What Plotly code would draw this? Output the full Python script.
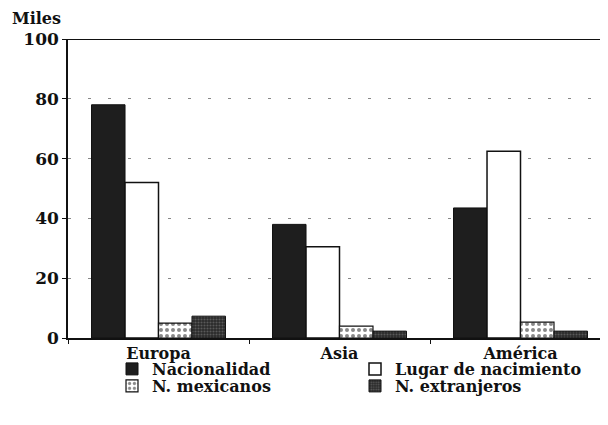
import plotly.graph_objects as go

categories = ["Europa", "Asia", "América"]
nacionalidad = [78, 38, 43.5]
lugar_nacimiento = [52, 30.5, 62.5]
n_mexicanos = [5, 4, 5.3]
n_extranjeros = [7.3, 2.3, 2.3]
y_ticks = [0, 20, 40, 60, 80, 100]

FONT = "DejaVu Serif"
OFF = 8  # page body margin offset
W, H = 608, 425
L, R, T, B = 68 - OFF, 5, 39 - OFF, 87 + OFF
PW, PH = W - L - R, H - T - B


def px_x(px):
    return (px - OFF - L) / PW


def px_y(py):
    return (H - B - (py - OFF)) / PH


fig = go.Figure()
fig.add_trace(go.Bar(x=categories, y=nacionalidad, name="Nacionalidad",
                     marker=dict(color="#1e1e1e", line=dict(color="#111", width=1)),
                     legend="legend"))
fig.add_trace(go.Bar(x=categories, y=lugar_nacimiento, name="Lugar de nacimiento",
                     marker=dict(color="white", line=dict(color="#111", width=1.5)),
                     legend="legend2"))
fig.add_trace(go.Bar(x=categories, y=n_mexicanos, name="N. mexicanos",
                     marker=dict(color="white", line=dict(color="#111", width=1.2),
                                 pattern=dict(shape=".", fgcolor="#111", bgcolor="white",
                                              size=6, solidity=0.35)),
                     legend="legend3"))
fig.add_trace(go.Bar(x=categories, y=n_extranjeros, name="N. extranjeros",
                     marker=dict(color="#3a3a3a", line=dict(color="#111", width=1),
                                 pattern=dict(shape=".", fgcolor="#888", bgcolor="#2a2a2a",
                                              size=3, solidity=0.4)),
                     legend="legend4"))

leg_font = dict(family=FONT, size=16, color="#111", weight="bold")


def leg(xpx, ypx):
    return dict(x=px_x(xpx), xanchor="left", y=px_y(ypx), yanchor="middle",
                font=leg_font, itemwidth=30, bgcolor="rgba(0,0,0,0)",
                borderwidth=0)


fig.update_layout(
    width=W, height=H,
    margin=dict(l=L, r=R, t=T, b=B, autoexpand=False),
    plot_bgcolor="white", paper_bgcolor="white",
    barmode="group", bargap=0.26, bargroupgap=0,
    font=dict(family=FONT, size=15, color="#111"),
    showlegend=True,
    legend=leg(112, 369),
    legend2=leg(355, 369),
    legend3=leg(112, 386),
    legend4=leg(355, 386),
    xaxis=dict(range=[-0.5, 2.5], showline=True, linecolor="#111", linewidth=1.5,
               ticks="outside", ticklen=4, tickcolor="#111", tickson="boundaries",
               tickfont=dict(family=FONT, size=16, color="#111", weight="bold"),
               showgrid=False),
    yaxis=dict(range=[0, 100], tickvals=y_ticks, showline=True, linecolor="#111",
               linewidth=1.5, mirror=False, ticks="outside", ticklen=4, tickcolor="#111",
               tickfont=dict(family=FONT, size=17, color="#111", weight="bold"),
               showgrid=True, gridcolor="#888", gridwidth=1, griddash="3px,17px",
               zeroline=False),
    annotations=[dict(text="<b>Miles</b>", xref="paper", yref="paper", x=px_x(10),
                      y=px_y(18), xanchor="left", yanchor="middle", showarrow=False,
                      font=dict(family=FONT, size=16, color="#111"))],
)
fig.add_hline(y=100, line=dict(color="#111", width=1.8))
fig.write_html("out.html")
